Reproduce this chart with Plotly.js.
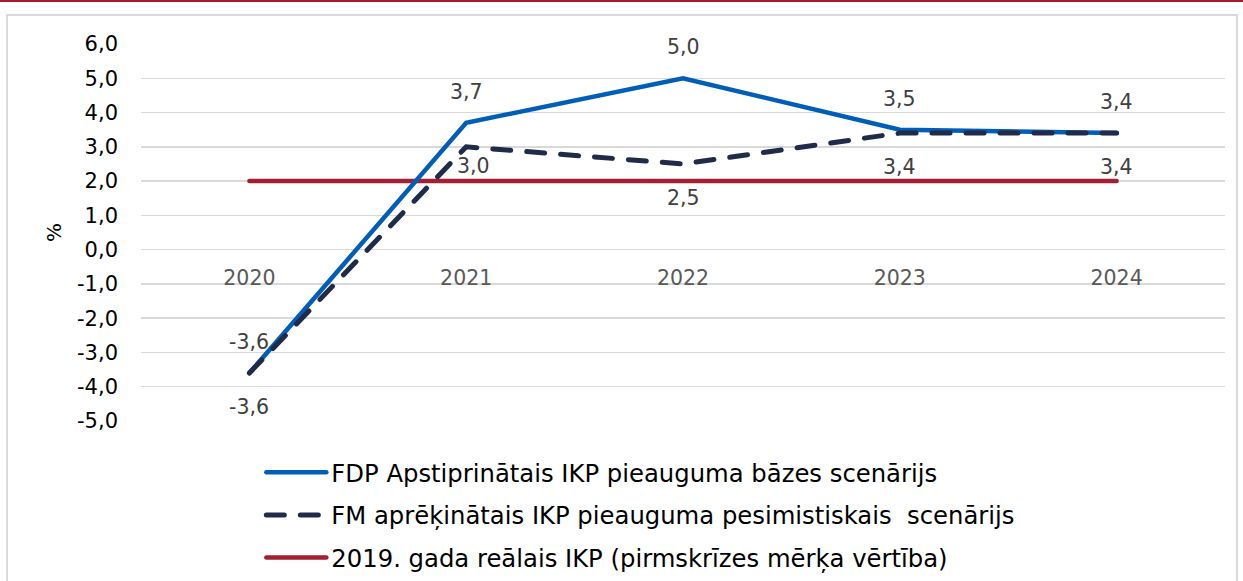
<!DOCTYPE html>
<html>
<head>
<meta charset="utf-8">
<script src="https://cdn.plot.ly/plotly-3.0.1.min.js"></script>
<style>
  html, body { margin: 0; padding: 0; background: #ffffff; }
  #wrap { position: relative; width: 1243px; height: 581px; overflow: hidden; }
  #topbar { position: absolute; left: 0; top: 0; width: 1243px; height: 2px; background: #a6192e; }
  #frame { position: absolute; left: 6px; top: 14px; width: 1232px; height: 600px; border: 2px solid #d9d9d9; box-sizing: border-box; pointer-events: none; }
  #chart { position: absolute; left: 0; top: 0; width: 1243px; height: 581px; }
  .scatterlayer .js-line, .legend .js-line { stroke-linecap: round; }
</style>
</head>
<body>
<div id="wrap">
  <div id="chart"></div>
  <div id="topbar"></div>
  <div id="frame"></div>
</div>
<script>
// ---- data ----
var years = ['2020', '2021', '2022', '2023', '2024'];
var baseScenario = [-3.6, 3.7, 5.0, 3.5, 3.4];        // FDP Apstiprinātais IKP pieauguma bāzes scenārijs
var pessimisticScenario = [-3.6, 3.0, 2.5, 3.4, 3.4]; // FM aprēķinātais IKP pieauguma pesimistiskais scenārijs
var preCrisisTarget = [2.0, 2.0, 2.0, 2.0, 2.0];      // 2019. gada reālais IKP (pirmskrīzes mērķa vērtība)
var seriesNames = [
  'FDP Apstiprinātais IKP pieauguma bāzes scenārijs',
  'FM aprēķinātais IKP pieauguma pesimistiskais  scenārijs',
  '2019. gada reālais IKP (pirmskrīzes mērķa vērtība)'
];
var yTickValues = [-5, -4, -3, -2, -1, 0, 1, 2, 3, 4, 5, 6];

// ---- styling ----
var FONT = 'DejaVu Sans, Verdana, sans-serif';
var colBlue = '#005eb8', colNavy = '#1f2b48', colRed = '#a31f34';

function fmt(v) { return v.toFixed(1).replace('.', ','); }

var traces = [
  { x: years, y: preCrisisTarget, name: seriesNames[2], type: 'scatter', mode: 'lines',
    line: { color: colRed, width: 4.5 }, legendgroup: 'c', legendrank: 3, hoverinfo: 'skip' },
  { x: years, y: baseScenario, name: seriesNames[0], type: 'scatter', mode: 'lines',
    line: { color: colBlue, width: 4.5 }, legendgroup: 'a', legendrank: 1, hoverinfo: 'skip' },
  { x: years, y: pessimisticScenario, name: seriesNames[1], type: 'scatter', mode: 'lines',
    line: { color: colNavy, width: 5, dash: '18px,16px' }, legendgroup: 'b', legendrank: 2, hoverinfo: 'skip' }
];

var labelFont = { family: FONT, size: 20.5, color: '#404040' };
var annotations = [];
baseScenario.forEach(function (v, i) {
  annotations.push({ x: i, y: v, xref: 'x', yref: 'y', text: fmt(v), showarrow: false,
    yshift: 31, font: labelFont });
});
var nudge = { 1: { x: 7, y: -19 } };
pessimisticScenario.forEach(function (v, i) {
  var n = nudge[i] || { x: 0, y: -34 };
  annotations.push({ x: i, y: v, xref: 'x', yref: 'y', text: fmt(v), showarrow: false,
    xshift: n.x, yshift: n.y, font: labelFont });
});

var layout = {
  width: 1243, height: 581,
  margin: { l: 141, r: 18, t: 44, b: 160, pad: 0, autoexpand: false },
  paper_bgcolor: 'rgba(0,0,0,0)', plot_bgcolor: 'rgba(0,0,0,0)',
  separators: ', ',
  font: { family: FONT, size: 20, color: '#000000' },
  showlegend: true,
  legend: {
    orientation: 'v', x: 0.111, xanchor: 'left', y: -0.077, yanchor: 'top',
    font: { family: FONT, size: 24.3, color: '#000000' },
    tracegroupgap: 8, itemwidth: 60, traceorder: 'grouped',
    bgcolor: 'rgba(0,0,0,0)'
  },
  xaxis: {
    type: 'category', range: [-0.5, 4.5], anchor: 'free', position: 5 / 11,
    showgrid: false, showline: false, zeroline: false, ticks: '',
    ticklabelstandoff: 14,
    tickfont: { family: FONT, size: 20.5, color: '#595959' },
    fixedrange: true
  },
  yaxis: {
    range: [-5, 6], tickvals: yTickValues, ticktext: yTickValues.map(fmt),
    showgrid: true, gridcolor: '#d9d9d9', gridwidth: 1.5,
    zeroline: false, showline: false, ticks: '',
    ticklabelstandoff: 22,
    tickfont: { family: FONT, size: 21, color: '#000000' },
    title: { text: '%', font: { family: FONT, size: 20, color: '#000000' }, standoff: 10 },
    fixedrange: true
  },
  annotations: annotations
};

Plotly.newPlot('chart', traces, layout, { displayModeBar: false, staticPlot: true });
</script>
</body>
</html>
